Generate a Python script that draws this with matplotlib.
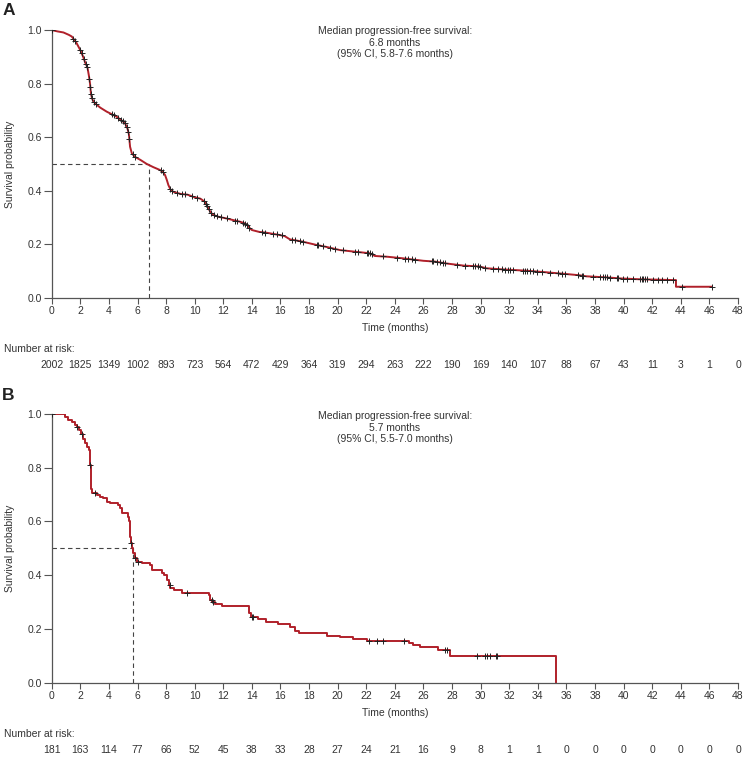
import numpy as np
import matplotlib

matplotlib.use("Agg")
import matplotlib.pyplot as plt

plt.rcParams["font.family"] = ["Liberation Sans", "DejaVu Sans"]

# --- panel A: all patients (curve, many events -> near-continuous)
km_a_t = [0, 0.4, 0.82, 1.2, 1.4, 1.7, 2.0, 2.2, 2.33, 2.5, 2.6, 2.68, 2.75, 2.85, 3.03,
          3.4, 3.85, 4.3, 4.55, 4.9, 5.13, 5.3, 5.4, 5.48, 5.6, 5.8, 6.2, 6.64, 7.1, 7.58,
          7.8, 7.93, 8.05, 8.16, 8.3, 8.5, 9.0, 9.5, 9.9, 10.4, 10.7, 10.85, 10.96, 11.1,
          11.3, 11.7, 12.24, 12.7, 13.17, 13.5, 13.7, 13.87, 14.0, 14.5, 15.0, 15.97, 16.3,
          16.66, 17.5, 18.53, 19.2, 20.16, 21.2, 22.26, 22.6, 23.5, 24.6, 25.99, 26.8, 27.6,
          28.8, 29.9, 30.4, 31.8, 33.2, 34.6, 36.0, 36.9, 37.4, 38.8, 39.8, 41.1, 43.5,
          43.66, 43.66, 46.15]
km_a_s = [1.0, 0.995, 0.991, 0.982, 0.976, 0.955, 0.925, 0.90, 0.88, 0.86, 0.83, 0.80,
          0.76, 0.74, 0.726, 0.71, 0.695, 0.683, 0.676, 0.662, 0.651, 0.632, 0.61, 0.564,
          0.54, 0.527, 0.515, 0.50, 0.488, 0.477, 0.468, 0.458, 0.44, 0.421, 0.405, 0.396,
          0.388, 0.385, 0.377, 0.37, 0.359, 0.345, 0.334, 0.32, 0.309, 0.302, 0.296, 0.29,
          0.284, 0.278, 0.27, 0.259, 0.253, 0.246, 0.243, 0.234, 0.23, 0.218, 0.21, 0.197,
          0.19, 0.178, 0.172, 0.166, 0.156, 0.153, 0.147, 0.138, 0.135, 0.128, 0.12, 0.117,
          0.110, 0.105, 0.101, 0.095, 0.0885, 0.084, 0.08, 0.076, 0.072, 0.069, 0.066,
          0.066, 0.041, 0.041]
cens_a_t = [0.0, 1.52, 1.63, 1.98, 2.1, 2.26, 2.4, 2.49, 2.63, 2.7, 2.75, 2.82, 2.96, 3.08,
            4.2, 4.36, 4.66, 4.83, 4.97, 5.1, 5.24, 5.36, 5.43, 5.66, 5.83, 7.62, 7.76,
            8.28, 8.41, 8.79, 9.09, 9.35, 9.79, 10.14, 10.65, 10.79, 10.89, 11.0, 11.14,
            11.35, 11.59, 11.82, 12.24, 12.82, 12.98, 13.4, 13.54, 13.68, 13.82, 14.69,
            14.92, 15.5, 15.73, 16.08, 16.78, 17.02, 17.37, 17.6, 18.53, 18.65, 19.0, 19.46,
            19.81, 20.4, 21.2, 21.45, 22.03, 22.14, 22.26, 22.38, 23.19, 24.13, 24.71,
            24.94, 25.17, 25.41, 26.57, 26.69, 26.92, 27.16, 27.39, 27.5, 28.32, 28.9,
            29.49, 29.6, 29.84, 29.95, 30.3, 30.89, 31.24, 31.47, 31.7, 31.94, 32.05, 32.28,
            32.98, 33.1, 33.22, 33.45, 33.68, 33.92, 34.27, 34.85, 35.43, 35.66, 35.9,
            36.83, 37.06, 37.18, 37.88, 38.35, 38.58, 38.7, 38.81, 39.04, 39.51, 39.63,
            39.98, 40.21, 40.68, 41.14, 41.26, 41.38, 41.49, 41.61, 42.08, 42.42, 42.66,
            43.0, 43.47, 44.05, 46.15]
at_risk_a = [2002, 1825, 1349, 1002, 893, 723, 564, 472, 429, 364, 319, 294, 263, 222,
             190, 169, 140, 107, 88, 67, 43, 11, 3, 1, 0]
median_a = 6.8
note_a = "Median progression-free survival:\n6.8 months\n(95% CI, 5.8-7.6 months)"

# --- panel B: subgroup (step function: event time, survival after the event)
km_b_t = [0, 0.93, 1.17, 1.4, 1.64, 1.8, 1.92, 2.03, 2.17, 2.33, 2.5, 2.62, 2.69, 2.77,
          2.85, 3.15, 3.39, 3.62, 3.86, 4.1, 4.67, 4.8, 4.91, 5.33, 5.44, 5.49, 5.56, 5.65,
          5.72, 5.84, 5.96, 6.31, 6.9, 7.01, 7.71, 7.83, 8.06, 8.18, 8.29, 8.53, 9.1,
          10.98, 11.1, 11.21, 11.45, 11.92, 13.8, 13.92, 14.4, 15.0, 15.8, 16.69, 17.04,
          17.27, 19.26, 20.19, 21.08, 22.06, 24.97, 25.28, 25.74, 27.0, 27.85, 35.25]
km_b_s = [1.0, 0.988, 0.976, 0.969, 0.96, 0.95, 0.94, 0.925, 0.905, 0.89, 0.878, 0.866,
          0.81, 0.72, 0.705, 0.698, 0.692, 0.686, 0.674, 0.667, 0.661, 0.649, 0.633, 0.618,
          0.60, 0.543, 0.519, 0.50, 0.481, 0.463, 0.45, 0.444, 0.438, 0.419, 0.409, 0.40,
          0.382, 0.364, 0.351, 0.345, 0.333, 0.326, 0.308, 0.301, 0.293, 0.285, 0.258,
          0.246, 0.236, 0.227, 0.217, 0.206, 0.194, 0.184, 0.174, 0.169, 0.161, 0.155,
          0.149, 0.140, 0.132, 0.122, 0.099, 0.0]
cens_b_t = [0.0, 1.8, 2.1, 2.69, 3.0, 5.56, 5.85, 6.0, 8.25, 9.46, 11.2, 11.3, 14.0, 14.1,
            22.18, 22.76, 23.18, 24.67, 27.54, 27.66, 29.71, 30.28, 30.42, 30.65, 31.05,
            31.16]
at_risk_b = [181, 163, 114, 77, 66, 52, 45, 38, 33, 28, 27, 24, 21, 16, 9, 8, 1, 1, 0, 0,
             0, 0, 0, 0, 0]
median_b = 5.7
note_b = "Median progression-free survival:\n5.7 months\n(95% CI, 5.5-7.0 months)"

x_ticks = list(range(0, 49, 2))
y_ticks = [0.0, 0.2, 0.4, 0.6, 0.8, 1.0]

CURVE = "#b0202a"
TXT = "#333333"
SPINE = "#555555"


def style_axes(ax):
    ax.set_xlim(0, 48)
    ax.set_ylim(0, 1.0)
    ax.set_xticks(x_ticks)
    ax.set_yticks(y_ticks)
    ax.set_yticklabels([f"{v:.1f}" for v in y_ticks])
    for side in ("top", "right"):
        ax.spines[side].set_visible(False)
    for side in ("left", "bottom"):
        ax.spines[side].set_color(SPINE)
        ax.spines[side].set_linewidth(0.9)
    ax.tick_params(axis="x", length=4, width=0.8, color=SPINE, labelsize=7.5,
                   labelcolor=TXT, pad=2)
    ax.tick_params(axis="y", length=5.5, width=0.8, color=SPINE, labelsize=7.5,
                   labelcolor=TXT, pad=1.5)
    ax.set_xlabel("Time (months)", fontsize=7.5, color=TXT, labelpad=5)
    ax.set_ylabel("Survival probability", fontsize=7.5, color=TXT, labelpad=9)
    ax.patch.set_alpha(0)


def add_risk_table(ax, counts):
    ax.text(-0.07, -0.19, "Number at risk:", transform=ax.transAxes, fontsize=7.5,
            color=TXT, ha="left", va="center")
    trans = matplotlib.transforms.blended_transform_factory(ax.transData, ax.transAxes)
    for x, n in zip(x_ticks, counts):
        ax.text(x, -0.25, str(n), transform=trans, fontsize=7.5, color=TXT,
                ha="center", va="center")


def draw_median(ax, med):
    ax.plot([0, med], [0.5, 0.5], ls=(0, (4, 3)), color="#444444", lw=0.8, zorder=1)
    ax.plot([med, med], [0, 0.5], ls=(0, (4, 3)), color="#444444", lw=0.8, zorder=1)


fig = plt.figure(figsize=(7.43, 7.57), dpi=100)
ax_a = fig.add_axes([0.0696, 0.6067, 0.9237, 0.3536])
ax_b = fig.add_axes([0.0696, 0.0982, 0.9237, 0.355])

# panel A
draw_median(ax_a, median_a)
ax_a.plot(km_a_t, km_a_s, color=CURVE, lw=1.4, zorder=2)
cy_a = np.interp(cens_a_t, km_a_t[:-3], km_a_s[:-3])
cy_a = np.where(np.array(cens_a_t) > 43.66, km_a_s[-1], cy_a)
ax_a.plot(cens_a_t, cy_a, ls="none", marker="+", ms=4.5, mew=0.7, color="#222222", zorder=3)
style_axes(ax_a)
add_risk_table(ax_a, at_risk_a)
ax_a.text(0.5, 1.015, note_a, transform=ax_a.transAxes, ha="center", va="top",
          fontsize=7.5, color=TXT, linespacing=1.2)

# panel B
draw_median(ax_b, median_b)
ax_b.step(km_b_t, km_b_s, where="post", color=CURVE, lw=1.4, zorder=2)
idx = np.searchsorted(km_b_t, cens_b_t, side="right") - 1
cy_b = np.array(km_b_s)[idx]
ax_b.plot(cens_b_t, cy_b, ls="none", marker="+", ms=4.5, mew=0.7, color="#222222", zorder=3)
style_axes(ax_b)
add_risk_table(ax_b, at_risk_b)
ax_b.text(0.5, 1.01, note_b, transform=ax_b.transAxes, ha="center", va="top",
          fontsize=7.5, color=TXT, linespacing=1.2)

fig.text(0.003, 0.996, "A", fontsize=12.5, fontweight="bold", color="#222222",
         ha="left", va="top")
fig.text(0.003, 0.488, "B", fontsize=12.5, fontweight="bold", color="#222222",
         ha="left", va="top")

fig.savefig("out.png", dpi=100)
